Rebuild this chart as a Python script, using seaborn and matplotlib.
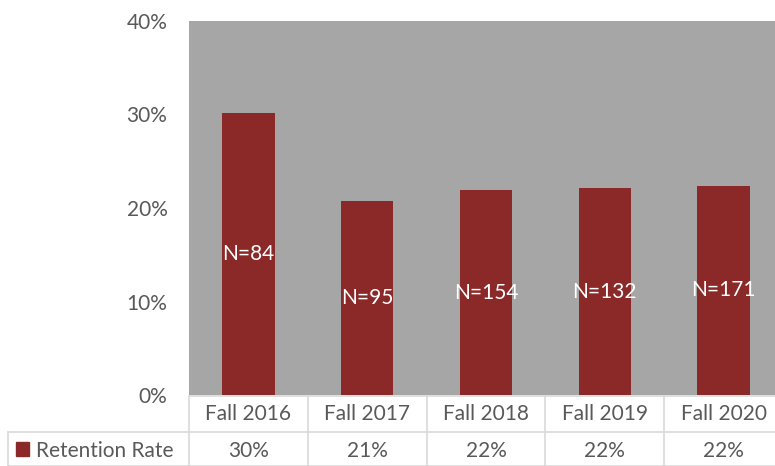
import matplotlib
matplotlib.use("Agg")
import matplotlib.pyplot as plt
import matplotlib.transforms as mtransforms
from matplotlib.patches import Rectangle
import seaborn as sns
import pandas as pd

# Data
terms = ["Fall 2016", "Fall 2017", "Fall 2018", "Fall 2019", "Fall 2020"]
retention = [0.302, 0.207, 0.219, 0.221, 0.224]
table_labels = ["30%", "21%", "22%", "22%", "22%"]
cohort_n = [84, 95, 154, 132, 171]
series_name = "Retention Rate"

bar_color = "#8B2929"
text_color = "#595959"
grid_color = "#D9D9D9"
fs = 15

sns.set_theme(style="white")
plt.rcParams["font.family"] = ["Lato", "DejaVu Sans"]

df = pd.DataFrame({"Term": terms, "Rate": retention})

fig = plt.figure(figsize=(7.75, 4.66), dpi=100)
ax = fig.add_axes([189 / 775, 71 / 466, 594 / 775, 374 / 466])

sns.barplot(data=df, x="Term", y="Rate", color=bar_color, width=0.44,
            saturation=1, linewidth=0, ax=ax)
ax.set_facecolor("#A6A6A6")
for s in ax.spines.values():
    s.set_visible(False)

ax.set_ylim(0, 0.40)
ax.set_xlim(-0.5, len(terms) - 0.5)
ax.set_yticks([0, 0.1, 0.2, 0.3, 0.4])
ax.set_yticklabels(["0%", "10%", "20%", "30%", "40%"], color=text_color, fontsize=fs)
ax.tick_params(axis="y", length=0, pad=15.5)
ax.set_xticks([])
ax.set_xlabel("")
ax.set_ylabel("")

# N labels in the middle of bars
ax.bar_label(ax.containers[0], labels=[f"N={n}" for n in cohort_n],
             label_type="center", color="white", fontsize=fs)

# Data table below the chart
trans = mtransforms.blended_transform_factory(ax.transData, ax.transAxes)
y_top, y_mid, y_bot = -0.003, -0.099, -0.19
x_left = -2.02
lw = 1.2
ax.plot([-0.5, len(terms) - 0.5], [y_top, y_top], color=grid_color, lw=lw,
        transform=trans, clip_on=False)
ax.plot([x_left, len(terms) - 0.5], [y_mid, y_mid], color=grid_color, lw=lw,
        transform=trans, clip_on=False)
ax.plot([x_left, len(terms) - 0.5], [y_bot, y_bot], color=grid_color, lw=lw,
        transform=trans, clip_on=False)
ax.plot([x_left, x_left], [y_mid, y_bot], color=grid_color, lw=lw,
        transform=trans, clip_on=False)
for i in range(len(terms) + 1):
    ax.plot([i - 0.5, i - 0.5], [y_top, y_bot], color=grid_color, lw=lw,
            transform=trans, clip_on=False)

for i, (t, v) in enumerate(zip(terms, table_labels)):
    ax.text(i, (y_top + y_mid) / 2, t, ha="center", va="center",
            color=text_color, fontsize=fs, transform=trans, clip_on=False)
    ax.text(i, (y_mid + y_bot) / 2 - 0.005, v, ha="center", va="center",
            color=text_color, fontsize=fs, transform=trans, clip_on=False)

ax.add_patch(Rectangle((-1.96, -0.163), 0.11, 0.037, color=bar_color,
                       transform=trans, clip_on=False))
ax.text(-1.79, (y_mid + y_bot) / 2 - 0.005, series_name, ha="left", va="center",
        color=text_color, fontsize=fs, transform=trans, clip_on=False)

fig.savefig("out.png", dpi=100)
